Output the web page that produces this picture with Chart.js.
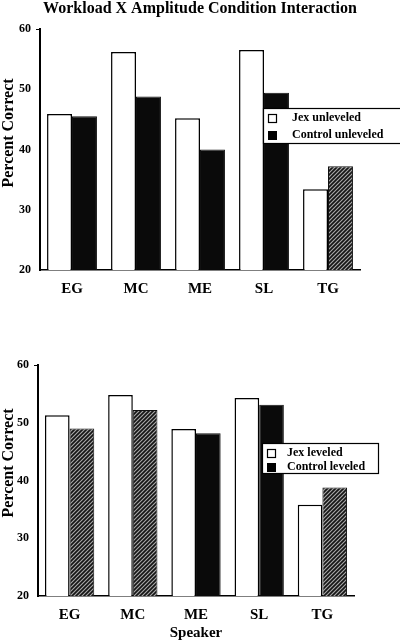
<!DOCTYPE html>
<html>
<head>
<meta charset="utf-8">
<script src="https://cdn.jsdelivr.net/npm/chart.js@4.4.1/dist/chart.umd.min.js"></script>
<style>
  html, body { margin: 0; padding: 0; background: #fff; }
  #wrap { position: relative; width: 400px; height: 642px; overflow: hidden; }
  #topBox { position: absolute; left: 0; top: 0; }
  #botBox { position: absolute; left: 0; top: 320px; }
</style>
</head>
<body>
<div id="wrap">
  <div id="topBox"><canvas id="chart-top" width="400" height="320"></canvas></div>
  <div id="botBox"><canvas id="chart-bottom" width="400" height="322"></canvas></div>
</div>
<script>
'use strict';

var speakers = ['EG', 'MC', 'ME', 'SL', 'TG'];
var jexUnleveled     = [45.9, 56.2, 45.2, 56.5, 33.4];
var controlUnleveled = [45.5, 48.8, 40.0, 49.4, 37.2];
var jexLeveled       = [51.3, 54.8, 48.9, 54.3, 35.8];
var controlLeveled   = [49.0, 52.2, 48.2, 53.1, 38.8];
var yMin = 20, yMax = 60, yStep = 10;

var SERIF = '"Liberation Serif", "Times New Roman", serif';

function hatch() {
  var c = document.createElement('canvas');
  c.width = 4; c.height = 4;
  var g = c.getContext('2d');
  g.fillStyle = '#a8a8a8';
  g.fillRect(0, 0, 4, 4);
  g.strokeStyle = '#151515';
  g.lineWidth = 1.7;
  g.beginPath();
  g.moveTo(-1, 5); g.lineTo(5, -1);
  g.moveTo(-1, 1); g.lineTo(1, -1);
  g.moveTo(3, 5); g.lineTo(5, 3);
  g.stroke();
  return g.createPattern(c, 'repeat');
}
var HATCH = hatch();

// legend drawn as a boxed panel inside the plot
var boxLegend = {
  id: 'boxLegend',
  afterDraw: function (chart, args, opts) {
    var ctx = chart.ctx;
    ctx.save();
    ctx.fillStyle = '#fff';
    ctx.fillRect(opts.x, opts.y, opts.w, opts.h);
    ctx.strokeStyle = '#000';
    ctx.lineWidth = 1.2;
    ctx.strokeRect(opts.x + 0.5, opts.y + 0.5, opts.w, opts.h);
    ctx.font = 'bold 12px ' + SERIF;
    ctx.textBaseline = 'middle';
    chart.data.datasets.forEach(function (ds, i) {
      var cy = opts.y + opts.first + i * opts.gap;
      if (i === 0) {
        ctx.fillStyle = '#fff';
        ctx.fillRect(opts.x + 5, cy - 4, 8, 8);
        ctx.strokeStyle = '#000';
        ctx.lineWidth = 1.2;
        ctx.strokeRect(opts.x + 5.5, cy - 3.5, 8, 8);
      } else {
        ctx.fillStyle = '#000';
        ctx.fillRect(opts.x + 5, cy - 4, 9, 9);
      }
      ctx.fillStyle = '#000';
      ctx.fillText(ds.label, opts.x + opts.textDx, cy);
    });
    ctx.restore();
  }
};

// free-placed captions: page title and the rotated y axis caption
var captions = {
  id: 'captions',
  afterDraw: function (chart, args, opts) {
    var ctx = chart.ctx;
    (opts.items || []).forEach(function (t) {
      ctx.save();
      ctx.translate(t.x, t.y);
      if (t.rotate) ctx.rotate(-Math.PI / 2);
      ctx.font = 'bold ' + t.size + 'px ' + SERIF;
      ctx.fillStyle = '#000';
      ctx.textAlign = 'center';
      ctx.textBaseline = 'middle';
      ctx.fillText(t.text, 0, 0);
      ctx.restore();
    });
  }
};

function makeChart(canvas, jex, ctrl, labels, ctrlColors, cfg) {
  return new Chart(canvas, {
    type: 'bar',
    data: {
      labels: speakers,
      datasets: [{
        label: labels[0],
        data: jex,
        backgroundColor: '#fff',
        borderColor: '#000',
        borderWidth: 1.5,
        categoryPercentage: 0.78,
        barPercentage: 1.0
      }, {
        label: labels[1],
        data: ctrl,
        backgroundColor: ctrlColors,
        borderColor: '#111',
        borderWidth: 1,
        categoryPercentage: 0.78,
        barPercentage: 1.0
      }]
    },
    options: {
      responsive: false,
      animation: false,
      layout: { padding: cfg.padding },
      plugins: {
        legend: { display: false },
        tooltip: { enabled: false },
        title: { display: false },
        boxLegend: cfg.legend,
        captions: { items: cfg.captions }
      },
      scales: {
        x: {
          afterFit: function (s) { s.height = cfg.xHeight; },
          grid: { drawOnChartArea: false, drawTicks: false },
          border: { display: true, color: '#000', width: 1.5 },
          ticks: { color: '#000', padding: 10, font: { family: SERIF, size: 15, weight: 'bold' } },
          title: cfg.xTitle
        },
        y: {
          min: yMin,
          max: yMax,
          afterFit: function (s) { s.width = cfg.yWidth; },
          grid: {
            drawOnChartArea: false,
            tickLength: 4,
            color: function (c) { return c.tick && c.tick.value === yMax ? '#000' : 'rgba(0,0,0,0)'; }
          },
          border: { display: true, color: '#000', width: 2 },
          ticks: { stepSize: yStep, color: '#000', padding: 5, font: { family: SERIF, size: 12, weight: 'bold' } }
        }
      }
    },
    plugins: [boxLegend, captions]
  });
}

makeChart(document.getElementById('chart-top'), jexUnleveled, controlUnleveled,
  ['Jex unleveled', 'Control unleveled'],
  ['#0a0a0a', '#0a0a0a', '#0a0a0a', '#0a0a0a', HATCH],
  {
    padding: { left: 0, right: 40, top: 29, bottom: 20 },
    legend: { x: 263, y: 108, w: 140, h: 35, first: 10, gap: 17, textDx: 29 },
    captions: [
      { text: 'Workload X Amplitude Condition Interaction', x: 200, y: 9, size: 16 },
      { text: 'Percent Correct', x: 9, y: 133, size: 16, rotate: true }
    ],
    xHeight: 30,
    yWidth: 40,
    xTitle: { display: false }
  });

makeChart(document.getElementById('chart-bottom'), jexLeveled, controlLeveled,
  ['Jex leveled', 'Control leveled'],
  [HATCH, HATCH, '#0a0a0a', '#0a0a0a', HATCH],
  {
    padding: { left: 0, right: 46, top: 45, bottom: 0 },
    legend: { x: 262, y: 123, w: 116, h: 30, first: 10, gap: 14, textDx: 25 },
    captions: [
      { text: 'Percent Correct', x: 9, y: 143, size: 16, rotate: true }
    ],
    xHeight: 46,
    yWidth: 38,
    xTitle: {
      display: true,
      text: 'Speaker',
      color: '#000',
      padding: 0,
      font: { family: SERIF, size: 15, weight: 'bold' }
    }
  });
</script>
</body>
</html>
